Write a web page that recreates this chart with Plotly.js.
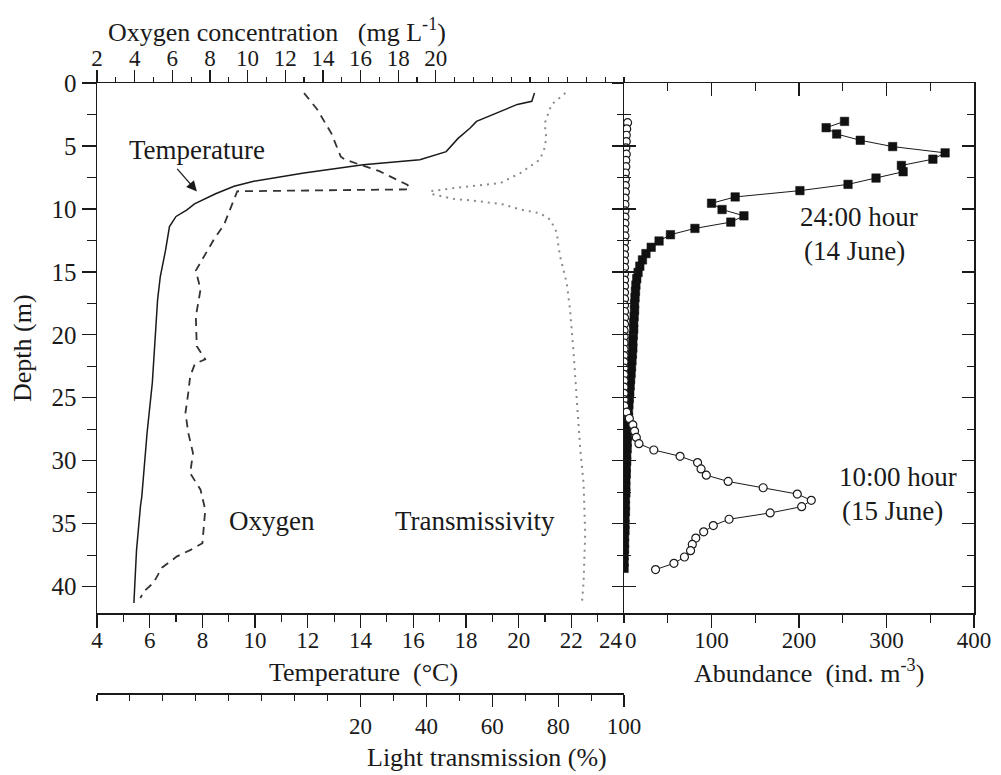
<!DOCTYPE html>
<html>
<head>
<meta charset="utf-8">
<script src="https://cdn.plot.ly/plotly-3.0.1.min.js"></script>
<style>html,body{margin:0;padding:0;background:#fff;}</style>
</head>
<body>
<div id="chart" style="width:1001px;height:775px;"></div>
<script>
// ---------- Data ----------
const temperatureDepth = [0.8, 1.45, 1.7, 2.4, 3.05, 3.6, 4.4, 5.45, 6.1, 6.5, 7.15, 7.8, 8.2, 8.8, 9.6, 10.1, 10.6, 11.4, 13.3, 15.4, 17.2, 23.8, 27.8, 32.85, 33.6, 37.1, 39.7, 41.3];
const temperature = [20.6, 20.5, 19.95, 19.15, 18.4, 18.15, 17.7, 17.25, 16.25, 14.1, 11.85, 9.95, 9.2, 8.5, 7.7, 7.4, 7.0, 6.75, 6.6, 6.4, 6.3, 6.1, 5.9, 5.7, 5.65, 5.5, 5.45, 5.4];

const oxygenDepth = [0.8, 2.1, 4.0, 5.85, 6.1, 7.0, 8.1, 8.45, 8.6, 9.55, 11.25, 12.45, 13.5, 14.9, 16.4, 18.55, 20.9, 21.95, 22.3, 23.3, 24.6, 26.2, 27.8, 29.4, 31.0, 32.3, 33.9, 36.55, 37.1, 37.6, 38.5, 39.7, 40.3, 40.9];
const oxygen = [13.0, 13.7, 14.45, 14.95, 15.2, 17.0, 18.5, 18.6, 9.45, 9.2, 8.75, 8.2, 7.8, 7.25, 7.5, 7.25, 7.3, 7.75, 7.2, 6.95, 6.85, 6.7, 6.85, 7.1, 6.95, 7.5, 7.75, 7.6, 6.95, 6.25, 5.45, 5.0, 4.55, 4.3];

const transDepth = [0.8, 1.7, 3.2, 4.4, 5.3, 6.1, 7.15, 7.95, 8.35, 8.6, 8.85, 9.2, 9.4, 9.65, 10.05, 10.35, 10.85, 11.9, 13.0, 13.8, 15.9, 18.0, 21.2, 25.2, 29.1, 31.8, 35.8, 39.7, 41.3];
const transmission = [82.2, 78.0, 75.9, 76.4, 75.7, 74.4, 68.5, 62.4, 48.2, 41.1, 42.1, 48.2, 56.3, 63.4, 68.5, 74.5, 77.6, 79.6, 80.1, 80.6, 82.6, 83.6, 84.6, 85.7, 86.7, 87.7, 88.2, 87.7, 87.2];

const abundance24Depth = [3.05, 3.55, 4.05, 4.55, 5.05, 5.55, 6.05, 6.55, 7.05, 7.55, 8.05, 8.55, 9.05, 9.55, 10.05, 10.55, 11.05, 11.55, 12.05, 12.55, 13.05, 13.55, 14.05, 14.55, 15.05, 15.55, 16.05, 16.55, 17.05, 17.55, 18.05, 18.55, 19.05, 19.55, 20.05, 20.55, 21.05, 21.55, 22.05, 22.55, 23.05, 23.55, 24.05, 24.55, 25.05, 25.55, 26.05, 26.55, 27.05, 27.55, 28.05, 28.55, 29.05, 29.55, 30.05, 30.55, 31.05, 31.55, 32.05, 32.55, 33.05, 33.55, 34.05, 34.55, 35.05, 35.55, 36.05, 36.55, 37.05, 37.55, 38.05, 38.55];
const abundance24 = [252, 231, 243, 270, 307, 367, 353, 317, 319, 288, 256, 201, 127, 100, 112, 137, 122, 81, 53, 40, 31, 25, 21, 18, 16, 14.5, 13.5, 13, 12.5, 12, 12, 11.5, 11, 11, 10.5, 10, 10, 9.5, 9, 8.5, 8, 7.5, 7, 6.5, 6, 5.5, 5, 5, 4.5, 4.5, 4, 3.5, 3.5, 3, 3, 2.5, 2.5, 2, 2, 2, 1.5, 1.5, 1.5, 1, 1, 1, 0.5, 0.5, 0.5, 0, 0, 0];

const abundance10Depth = [3.15, 3.65, 4.15, 4.65, 5.15, 5.65, 6.15, 6.65, 7.15, 7.65, 8.15, 8.65, 9.15, 9.65, 10.15, 10.65, 11.15, 11.65, 12.15, 12.65, 13.15, 13.65, 14.15, 14.65, 15.15, 15.65, 16.15, 16.65, 17.15, 17.65, 18.15, 18.65, 19.15, 19.65, 20.15, 20.65, 21.15, 21.65, 22.15, 22.65, 23.15, 23.65, 24.15, 24.65, 25.15, 25.65, 26.15, 26.65, 27.15, 27.65, 28.15, 28.65, 29.15, 29.65, 30.15, 30.65, 31.15, 31.65, 32.15, 32.65, 33.15, 33.65, 34.15, 34.65, 35.15, 35.65, 36.15, 36.65, 37.15, 37.65, 38.15, 38.65];
const abundance10 = [4, 3, 2.5, 2.5, 2, 2.5, 2, 2, 1.5, 1.5, 1.5, 1.5, 1, 1, 1, 1, 1, 0.5, 1, 0.5, 0.5, 0.5, 0.5, 0.5, 0.5, 0.5, 0.5, 0.5, 0.5, 0.5, 0.5, 0.5, 0.5, 0, 0, 0, 0, 0, 0, 0, 0, 0, 0, 0, 0, 0.5, 3, 6, 10, 12, 14, 17, 34, 64, 84, 88, 94, 119, 159, 198, 214, 203, 167, 120, 102, 91, 82, 78, 76, 69, 57, 36];

// Tick values and labels
const depthTicks = [0, 5, 10, 15, 20, 25, 30, 35, 40];
const temperatureTicks = [4, 6, 8, 10, 12, 14, 16, 18, 20, 22, 24];
const oxygenTicks = [2, 4, 6, 8, 10, 12, 14, 16, 18, 20];
const lightTicks = [20, 40, 60, 80, 100];
const abundanceTicks = [0, 100, 200, 300, 400];

// ---------- Styling ----------
const FONT = 'Liberation Serif, Times New Roman, serif';
const INK = '#1a1a1a';
const NB = '\u00a0';
const tickFontX = {family: FONT, size: 23, color: INK};
const tickFontY = {family: FONT, size: 25, color: INK};
const titleFont = {family: FONT, size: 26, color: INK};
const labelFont = {family: FONT, size: 27, color: INK};
const leftDom = [0, 0.601];
const rightDom = [0.601, 1];
const yDom = [0.1311, 1];
const depthRange = [42.1, 0];

// The two labels that meet at the shared corner ("24" and "0") are drawn as
// separate texts, nudged apart as in the original, so they do not collide.
const cornerTemp = temperatureTicks[temperatureTicks.length - 1];
const cornerAbund = abundanceTicks[0];
const temperatureAxisTicks = temperatureTicks.filter(v => v !== cornerTemp);
const abundanceAxisTicks = abundanceTicks.filter(v => v !== cornerAbund);

const traces = [
  {x: temperature, y: temperatureDepth, xaxis: 'x', yaxis: 'y', mode: 'lines',
   line: {color: INK, width: 1.5}, hoverinfo: 'skip'},
  {x: oxygen, y: oxygenDepth, xaxis: 'x2', yaxis: 'y', mode: 'lines',
   line: {color: '#333', width: 1.8, dash: '8px,6px'}, hoverinfo: 'skip'},
  {x: transmission, y: transDepth, xaxis: 'x3', yaxis: 'y', mode: 'lines',
   line: {color: '#8a8a8a', width: 2, dash: '2px,5px'}, hoverinfo: 'skip'},
  {x: abundance24, y: abundance24Depth, xaxis: 'x4', yaxis: 'y2', mode: 'lines+markers',
   line: {color: INK, width: 1}, marker: {symbol: 'square', size: 8.5, color: '#111', line: {color: '#111', width: 0.5}}, hoverinfo: 'skip'},
  {x: abundance10, y: abundance10Depth, xaxis: 'x4', yaxis: 'y2', mode: 'lines+markers',
   line: {color: INK, width: 1}, marker: {symbol: 'circle', size: 8, color: '#fff', line: {color: INK, width: 1.2}}, hoverinfo: 'skip'},
  // empty helper traces so the tick-only axes are drawn
  {x: [], y: [], xaxis: 'x5', yaxis: 'y2', mode: 'lines', hoverinfo: 'skip'},
  {x: [], y: [], xaxis: 'x4', yaxis: 'y3', mode: 'lines', hoverinfo: 'skip'}
];

const baseAxis = {showgrid: false, zeroline: false, showline: true, linecolor: INK, linewidth: 1.5, tickcolor: INK, tickwidth: 1.3, fixedrange: true};

function paperX(px) { return (px - 97) / 877; }
function paperY(py) { return (693 - py) / 610; }

const layout = {
  width: 1001, height: 775,
  margin: {l: 97, r: 27, t: 83, b: 82, pad: 0},
  paper_bgcolor: '#fff', plot_bgcolor: 'rgba(0,0,0,0)',
  showlegend: false,
  font: {family: FONT, color: INK},
  xaxis: Object.assign({}, baseAxis, {
    domain: leftDom, anchor: 'y', side: 'bottom', range: [4, 24],
    tickmode: 'array', tickvals: temperatureAxisTicks, ticktext: temperatureAxisTicks.map(String),
    ticks: 'outside', ticklen: 13, tickfont: tickFontX, ticklabelstandoff: -7,
    minor: {dtick: 1, tick0: 4, ticks: 'outside', ticklen: 7, tickcolor: INK, tickwidth: 1.2, showgrid: false}
  }),
  xaxis2: Object.assign({}, baseAxis, {
    overlaying: 'x', anchor: 'y', side: 'top', range: [2, 30],
    tickmode: 'array', tickvals: oxygenTicks, ticktext: oxygenTicks.map(String),
    ticks: 'outside', ticklen: 12, tickfont: tickFontX, ticklabelstandoff: -6,
    minor: {dtick: 1, tick0: 2, ticks: 'outside', ticklen: 5, tickcolor: INK, tickwidth: 1.2, showgrid: false}
  }),
  xaxis3: Object.assign({}, baseAxis, {
    overlaying: 'x', anchor: 'free', position: 0, side: 'bottom', range: [-60, 100],
    tickmode: 'array', tickvals: lightTicks, ticktext: lightTicks.map(String),
    ticks: 'outside', ticklen: 12, tickfont: tickFontX, ticklabelstandoff: 0,
    minor: {dtick: 10, tick0: 0, ticks: 'outside', ticklen: 6, tickcolor: INK, tickwidth: 1.1, showgrid: false}
  }),
  xaxis4: Object.assign({}, baseAxis, {
    domain: rightDom, anchor: 'y2', side: 'bottom', range: [0, 400],
    tickmode: 'array', tickvals: abundanceAxisTicks, ticktext: abundanceAxisTicks.map(String),
    ticks: 'outside', ticklen: 13, tickfont: tickFontX, ticklabelstandoff: -7,
    minor: {dtick: 50, tick0: 0, ticks: 'outside', ticklen: 8, tickcolor: INK, tickwidth: 1.2, showgrid: false}
  }),
  xaxis5: Object.assign({}, baseAxis, {
    overlaying: 'x4', anchor: 'y2', side: 'top', range: [0, 400],
    tickmode: 'array', tickvals: abundanceTicks, showticklabels: false,
    ticks: 'inside', ticklen: 13,
    minor: {dtick: 50, tick0: 0, ticks: 'inside', ticklen: 8, tickcolor: INK, tickwidth: 1.2, showgrid: false}
  }),
  yaxis: Object.assign({}, baseAxis, {
    domain: yDom, anchor: 'x', side: 'left', range: depthRange,
    tickmode: 'array', tickvals: depthTicks, ticktext: depthTicks.map(String),
    ticks: 'outside', ticklen: 14, tickfont: tickFontY, ticklabelstandoff: 0,
    minor: {dtick: 2.5, tick0: 0, ticks: 'outside', ticklen: 9, tickcolor: INK, tickwidth: 1.2, showgrid: false}
  }),
  yaxis2: Object.assign({}, baseAxis, {
    domain: yDom, anchor: 'x4', side: 'left', range: depthRange, mirror: 'ticks',
    tickmode: 'array', tickvals: depthTicks, showticklabels: false,
    ticks: 'inside', ticklen: 12,
    minor: {dtick: 2.5, tick0: 0, ticks: 'inside', ticklen: 7, tickcolor: INK, tickwidth: 1.2, showgrid: false}
  }),
  yaxis3: Object.assign({}, baseAxis, {
    overlaying: 'y2', anchor: 'x4', side: 'left', range: depthRange, showline: false,
    tickmode: 'array', tickvals: depthTicks, showticklabels: false,
    ticks: 'outside', ticklen: 11,
    minor: {dtick: 2.5, tick0: 0, ticks: 'outside', ticklen: 6, tickcolor: INK, tickwidth: 1.2, showgrid: false}
  }),
  annotations: [
    // corner tick labels, nudged apart
    {xref: 'paper', yref: 'paper', x: paperX(611), y: paperY(640), text: String(cornerTemp),
     showarrow: false, font: tickFontX, xanchor: 'center', yanchor: 'middle'},
    {xref: 'paper', yref: 'paper', x: paperX(631), y: paperY(640), text: String(cornerAbund),
     showarrow: false, font: tickFontX, xanchor: 'center', yanchor: 'middle'},
    // axis titles
    {xref: 'paper', yref: 'paper', x: paperX(363), y: paperY(672), text: 'Temperature' + NB + NB + '(°C)',
     showarrow: false, font: titleFont, xanchor: 'center', yanchor: 'middle'},
    {xref: 'paper', yref: 'paper', x: paperX(809), y: paperY(671), text: 'Abundance' + NB + NB + '(ind. m<sup>-3</sup>)',
     showarrow: false, font: titleFont, xanchor: 'center', yanchor: 'middle'},
    {xref: 'paper', yref: 'paper', x: paperX(277), y: paperY(31), text: 'Oxygen concentration' + NB + NB + NB + '(mg L<sup>-1</sup>)',
     showarrow: false, font: titleFont, xanchor: 'center', yanchor: 'middle'},
    {xref: 'paper', yref: 'paper', x: paperX(487), y: paperY(757), text: 'Light transmission (%)',
     showarrow: false, font: titleFont, xanchor: 'center', yanchor: 'middle'},
    {xref: 'paper', yref: 'paper', x: paperX(22), y: paperY(348), text: 'Depth (m)', textangle: -90,
     showarrow: false, font: titleFont, xanchor: 'center', yanchor: 'middle'},
    // in-plot labels
    {xref: 'x', yref: 'y', x: 7.79, y: 5.3, text: 'Temperature', showarrow: false,
     font: labelFont, xanchor: 'center', yanchor: 'middle'},
    {xref: 'x', yref: 'y', x: 7.79, y: 8.61, text: '', showarrow: true, ax: -21, ay: -24,
     arrowhead: 2, arrowsize: 1.6, arrowwidth: 1.3, arrowcolor: INK},
    {xref: 'x', yref: 'y', x: 10.64, y: 34.8, text: 'Oxygen', showarrow: false,
     font: labelFont, xanchor: 'center', yanchor: 'middle'},
    {xref: 'x', yref: 'y', x: 18.35, y: 34.8, text: 'Transmissivity', showarrow: false,
     font: labelFont, xanchor: 'center', yanchor: 'middle'},
    {xref: 'x4', yref: 'y2', x: 268.6, y: 10.66, text: '24:00 hour', showarrow: false,
     font: labelFont, xanchor: 'center', yanchor: 'middle'},
    {xref: 'x4', yref: 'y2', x: 262.9, y: 13.31, text: '(14 June)', showarrow: false,
     font: labelFont, xanchor: 'center', yanchor: 'middle'},
    {xref: 'x4', yref: 'y2', x: 313, y: 31.32, text: '10:00 hour', showarrow: false,
     font: labelFont, xanchor: 'center', yanchor: 'middle'},
    {xref: 'x4', yref: 'y2', x: 307, y: 34.0, text: '(15 June)', showarrow: false,
     font: labelFont, xanchor: 'center', yanchor: 'middle'}
  ]
};

Plotly.newPlot('chart', traces, layout, {displayModeBar: false, staticPlot: true});
</script>
</body>
</html>
